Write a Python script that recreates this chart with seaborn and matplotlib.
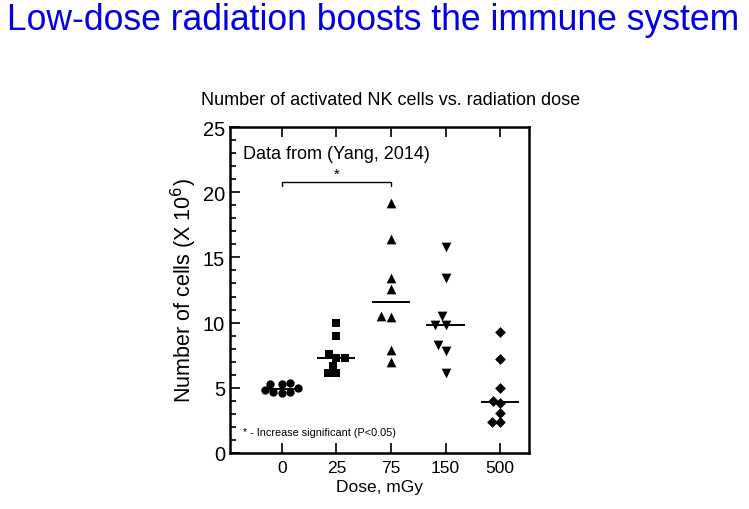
import matplotlib
matplotlib.use("Agg")
import matplotlib.pyplot as plt
import seaborn as sns
import pandas as pd
import numpy as np
from matplotlib.ticker import MultipleLocator

doses = ["0", "25", "75", "150", "500"]
markers = ["o", "s", "^", "v", "D"]
marker_sizes = [6, 6, 7, 7, 5.5]
cells_0 = [5.0, 5.3, 5.3, 5.4, 4.7, 4.6, 4.7, 4.8]
cells_25 = [10.0, 9.0, 7.6, 7.3, 7.3, 6.7, 6.1, 6.1]
cells_75 = [19.2, 16.4, 13.4, 12.6, 10.5, 10.4, 7.9, 7.0]
cells_150 = [15.8, 13.4, 10.5, 9.8, 9.8, 8.3, 7.8, 6.1]
cells_500 = [9.3, 7.2, 5.0, 4.0, 3.8, 3.1, 2.4, 2.4]

groups = [cells_0, cells_25, cells_75, cells_150, cells_500]
df = pd.DataFrame({
    "dose": np.repeat(doses, [len(g) for g in groups]),
    "cells": np.concatenate(groups),
})

sns.set_style("white")
plt.rcParams["font.family"] = ["Liberation Sans", "DejaVu Sans"]
plt.rcParams["text.color"] = "black"
plt.rcParams["axes.labelcolor"] = "black"
plt.rcParams["xtick.color"] = "black"
plt.rcParams["ytick.color"] = "black"

fig = plt.figure(figsize=(7.49, 5.10), dpi=100)
ax = fig.add_axes([230 / 749, 1 - 454 / 510, 299 / 749, 326 / 510])

for d, m, ms in zip(doses, markers, marker_sizes):
    sub = df[df["dose"] == d]
    sns.swarmplot(data=sub, x="dose", y="cells", order=doses, marker=m,
                  color="black", size=ms, ax=ax)

sns.boxplot(data=df, x="dose", y="cells", order=doses, ax=ax,
            showbox=False, showcaps=False, showfliers=False,
            whiskerprops={"visible": False},
            medianprops={"color": "black", "linewidth": 1.4},
            width=0.7, color="white")

ax.set_xlim(-0.95, 4.53)
ax.set_ylim(0, 25)
ax.yaxis.set_major_locator(MultipleLocator(5))
ax.yaxis.set_minor_locator(MultipleLocator(1))
ax.tick_params(axis="y", which="both", direction="in", left=True, right=False,
               labelsize=14.5, width=1.2)
ax.tick_params(axis="y", which="major", length=7)
ax.tick_params(axis="y", which="minor", length=4)
ax.tick_params(axis="x", direction="in", bottom=True, top=True, length=7,
               width=1.2, labelsize=12.5, pad=5)
for s in ax.spines.values():
    s.set_linewidth(1.8)
    s.set_color("black")

ax.set_xlabel("Dose, mGy", fontsize=12.5, labelpad=3)
ax.set_ylabel("Number of cells (X 10$^6$)", fontsize=15.5, labelpad=3)

# significance bracket between 0 and 75
ax.plot([0, 0, 2, 2], [20.5, 20.8, 20.8, 20.5], color="black", lw=1.0)
ax.text(1, 20.9, "*", ha="center", va="bottom", fontsize=10.5)

ax.text(0.045, 0.92, "Data from (Yang, 2014)", transform=ax.transAxes,
        fontsize=13, va="center", ha="left")
ax.text(0.045, 0.065, "* - Increase significant (P<0.05)", transform=ax.transAxes,
        fontsize=7.8, va="center", ha="left")

fig.text(391 / 749, 1 - 101 / 510, "Number of activated NK cells vs. radiation dose",
         ha="center", va="center", fontsize=13)
fig.text(7 / 749, 1 - 21 / 510, "Low-dose radiation boosts the immune system",
         ha="left", va="center", fontsize=25.6, color="#0000e0")

fig.savefig("out.png", dpi=100)
